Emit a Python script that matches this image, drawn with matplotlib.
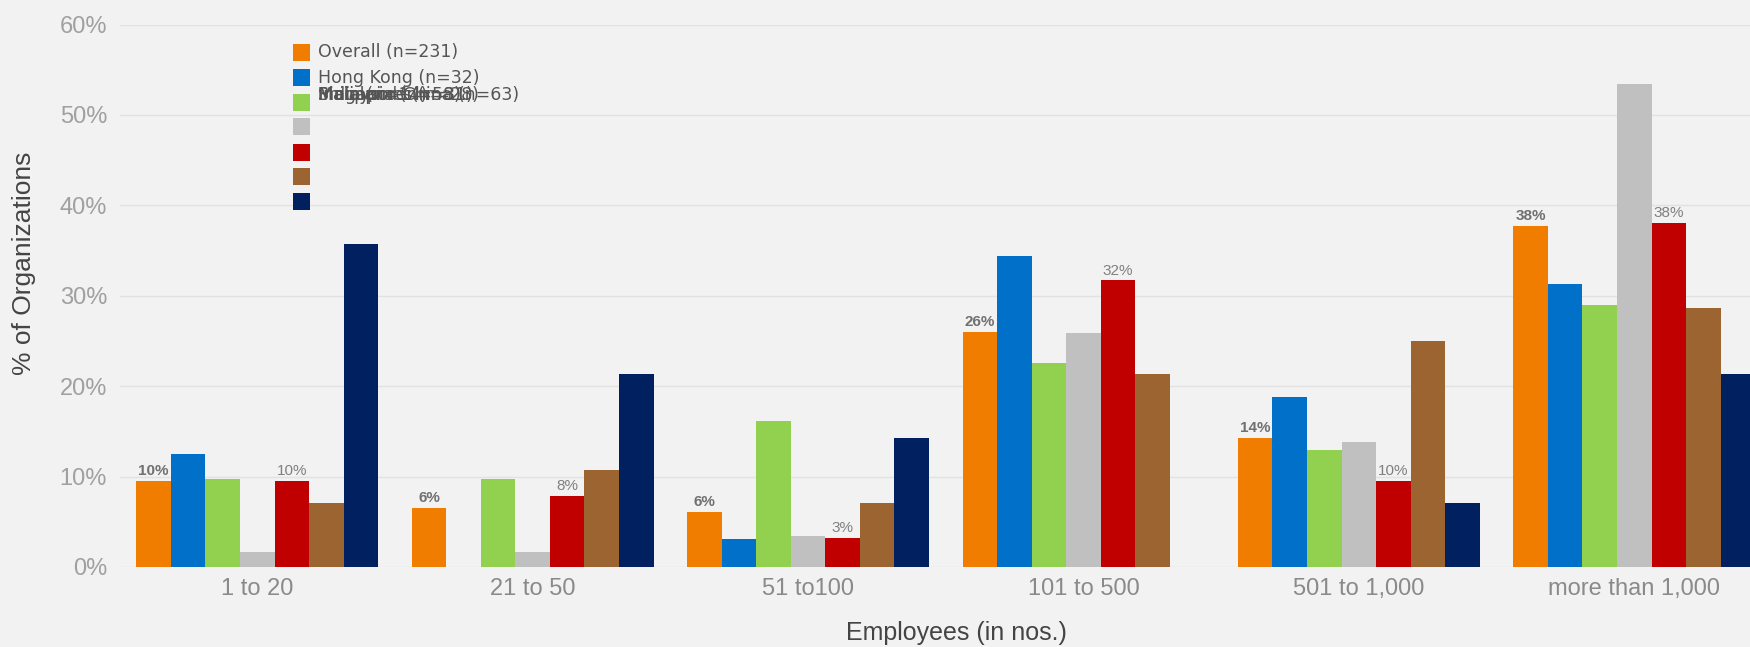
import matplotlib
matplotlib.use("Agg")
import matplotlib.pyplot as plt
import numpy as np
from matplotlib.patches import Rectangle

categories = ["1 to 20", "21 to 50", "51 to100", "101 to 500", "501 to 1,000", "more than 1,000"]
series_names = ["Overall (n=231)", "Hong Kong (n=32)", "Singapore (n=31)", "Malaysia (n=58)",
                "Mainland China (n=63)", "Philippines (n=28)", "India (n=14)"]
colors = ["#f07c00", "#0070c8", "#92d050", "#c0c0c0", "#c00000", "#9c6430", "#002060"]

overall   = [9.5, 6.5, 6.1, 26.0, 14.3, 37.7]
hong_kong = [12.5, 0.0, 3.1, 34.4, 18.8, 31.3]
green_s   = [9.7, 9.7, 16.1, 22.6, 12.9, 29.0]
gray_s    = [1.7, 1.7, 3.4, 25.9, 13.8, 53.4]
red_s     = [9.5, 7.9, 3.2, 31.7, 9.5, 38.1]
brown_s   = [7.1, 10.7, 7.1, 21.4, 25.0, 28.6]
navy_s    = [35.7, 21.4, 14.3, 0.0, 7.1, 21.4]
series = [overall, hong_kong, green_s, gray_s, red_s, brown_s, navy_s]

overall_labels = ["10%", "6%", "6%", "26%", "14%", "38%"]
red_labels = ["10%", "8%", "3%", "32%", "10%", "38%"]

AX_FONT = ["Liberation Sans", "DejaVu Sans"]
bg = "#f2f2f2"
fig = plt.figure(figsize=(17.5, 6.47), dpi=100, facecolor=bg)
ax = fig.add_axes([0.0683, 0.1237, 0.9317, 0.8383])
ax.set_facecolor(bg)

x = np.arange(len(categories))
w = 0.1255
for i, (vals, c) in enumerate(zip(series, colors)):
    ax.bar(x + (i - 3) * w, vals, width=w, color=c, zorder=3, linewidth=0)

for xi, v, lab in zip(x, overall, overall_labels):
    ax.text(xi - 3 * w, v + 0.3, lab, ha="center", va="bottom", fontsize=11,
            color="#707070", fontweight="bold", family=AX_FONT, zorder=4)
for xi, v, lab in zip(x, red_s, red_labels):
    ax.text(xi + 1 * w, v + 0.3, lab, ha="center", va="bottom", fontsize=11,
            color="#808080", family=AX_FONT, zorder=4)

ax.set_xlim(-0.5, 5.42)
ax.set_ylim(0, 60)
ax.set_yticks(np.arange(0, 61, 10))
ax.set_yticklabels([f"{t}%" for t in range(0, 61, 10)], family=AX_FONT)
ax.set_xticks(x)
ax.set_xticklabels(categories, family=AX_FONT)
ax.tick_params(axis="y", length=0, pad=9, labelsize=17, labelcolor="#a0a0a0")
ax.tick_params(axis="x", length=0, pad=8, labelsize=17, labelcolor="#8a8a8a")
ax.grid(axis="y", color="#e2e2e2", linewidth=1, zorder=0)
for s in ax.spines.values():
    s.set_visible(False)

ax.set_ylabel("% of Organizations", fontsize=19, color="#444444", family=AX_FONT)
ax.yaxis.label.set_va("center")
ax.yaxis.set_label_coords(-0.0586, 0.5605)
ax.set_xlabel("Employees (in nos.)", fontsize=18, color="#444444", family=AX_FONT)
ax.xaxis.label.set_va("center")
ax.xaxis.set_label_coords(0.5136, -0.1217)

# manual legend (labels 3-7 overlap on one row as in the reference)
W, H = 1750.0, 647.0
rows_y = [52, 77, 102, 127, 152, 176, 201]
for ry, c in zip(rows_y, colors):
    fig.patches.append(Rectangle((293 / W, 1 - (ry + 8.5) / H), 17 / W, 17 / H,
                                 transform=fig.transFigure, facecolor=c, edgecolor="none"))
text_y = [52, 78, 95, 95, 95, 95, 95]
for ty, name in zip(text_y, series_names):
    fig.text(318 / W, 1 - ty / H, name, fontsize=12.5, color="#555555", va="center", ha="left")

fig.savefig("out.png", dpi=100, facecolor=bg)
